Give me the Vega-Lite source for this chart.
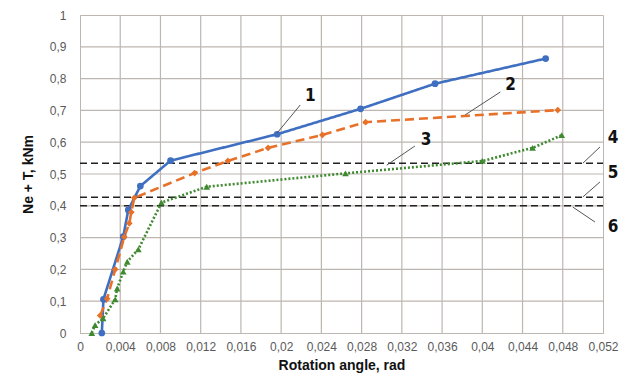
{
  "$schema": "https://vega.github.io/schema/vega-lite/v6.json",
  "autosize": {"type": "none"},
  "padding": {"left": 80, "top": 15, "right": 28, "bottom": 52},
  "width": 523,
  "height": 318,
  "background": "white",
  "config": {
    "view": {"stroke": "#bdb6b1", "strokeWidth": 1},
    "axis": {"grid": false, "labelOverlap": false, "labelFlush": false, "ticks": false, "domainColor": "#bdb6b1", "labelFont": "Liberation Sans", "labelFontSize": 12, "labelColor": "#5a5a5a", "titleFont": "Liberation Sans", "titleFontSize": 14, "titleFontWeight": "bold", "titleColor": "#111"}
  },
  "datasets": {
    "grid": [
      {"x": 0.004, "xe": 0.004, "y": 0, "ye": 1},
      {"x": 0.008, "xe": 0.008, "y": 0, "ye": 1},
      {"x": 0.012, "xe": 0.012, "y": 0, "ye": 1},
      {"x": 0.016, "xe": 0.016, "y": 0, "ye": 1},
      {"x": 0.02, "xe": 0.02, "y": 0, "ye": 1},
      {"x": 0.024, "xe": 0.024, "y": 0, "ye": 1},
      {"x": 0.028, "xe": 0.028, "y": 0, "ye": 1},
      {"x": 0.032, "xe": 0.032, "y": 0, "ye": 1},
      {"x": 0.036, "xe": 0.036, "y": 0, "ye": 1},
      {"x": 0.04, "xe": 0.04, "y": 0, "ye": 1},
      {"x": 0.044, "xe": 0.044, "y": 0, "ye": 1},
      {"x": 0.048, "xe": 0.048, "y": 0, "ye": 1},
      {"x": 0, "xe": 0.052, "y": 0.1, "ye": 0.1},
      {"x": 0, "xe": 0.052, "y": 0.2, "ye": 0.2},
      {"x": 0, "xe": 0.052, "y": 0.3, "ye": 0.3},
      {"x": 0, "xe": 0.052, "y": 0.4, "ye": 0.4},
      {"x": 0, "xe": 0.052, "y": 0.5, "ye": 0.5},
      {"x": 0, "xe": 0.052, "y": 0.6, "ye": 0.6},
      {"x": 0, "xe": 0.052, "y": 0.7, "ye": 0.7},
      {"x": 0, "xe": 0.052, "y": 0.8, "ye": 0.8},
      {"x": 0, "xe": 0.052, "y": 0.9, "ye": 0.9}
    ],
    "curves": [
      {"s": 1, "x": 0.00217, "y": 0},
      {"s": 1, "x": 0.00233, "y": 0.106},
      {"s": 1, "x": 0.0043, "y": 0.303},
      {"s": 1, "x": 0.0048, "y": 0.387},
      {"s": 1, "x": 0.006, "y": 0.462},
      {"s": 1, "x": 0.009, "y": 0.542},
      {"s": 1, "x": 0.0196, "y": 0.625},
      {"s": 1, "x": 0.0279, "y": 0.705},
      {"s": 1, "x": 0.0353, "y": 0.784},
      {"s": 1, "x": 0.0463, "y": 0.863},
      {"s": 2, "x": 0.002, "y": 0.055},
      {"s": 2, "x": 0.0027, "y": 0.108},
      {"s": 2, "x": 0.0035, "y": 0.2},
      {"s": 2, "x": 0.0044, "y": 0.302},
      {"s": 2, "x": 0.0049, "y": 0.345},
      {"s": 2, "x": 0.0051, "y": 0.38},
      {"s": 2, "x": 0.0054, "y": 0.425},
      {"s": 2, "x": 0.0114, "y": 0.503},
      {"s": 2, "x": 0.0147, "y": 0.541},
      {"s": 2, "x": 0.0187, "y": 0.582},
      {"s": 2, "x": 0.0241, "y": 0.623},
      {"s": 2, "x": 0.0284, "y": 0.663},
      {"s": 2, "x": 0.0475, "y": 0.701},
      {"s": 3, "x": 0.00117, "y": 0},
      {"s": 3, "x": 0.0015, "y": 0.025},
      {"s": 3, "x": 0.0023, "y": 0.046},
      {"s": 3, "x": 0.0035, "y": 0.106},
      {"s": 3, "x": 0.0037, "y": 0.14},
      {"s": 3, "x": 0.0043, "y": 0.193},
      {"s": 3, "x": 0.0047, "y": 0.224},
      {"s": 3, "x": 0.0058, "y": 0.263},
      {"s": 3, "x": 0.0081, "y": 0.41},
      {"s": 3, "x": 0.0126, "y": 0.46},
      {"s": 3, "x": 0.0264, "y": 0.502},
      {"s": 3, "x": 0.04, "y": 0.541},
      {"s": 3, "x": 0.045, "y": 0.582},
      {"s": 3, "x": 0.0479, "y": 0.622}
    ],
    "refs": [
      {"name": "4", "x": 0, "xe": 0.052, "y": 0.534},
      {"name": "5", "x": 0, "xe": 0.052, "y": 0.427},
      {"name": "6", "x": 0, "xe": 0.052, "y": 0.4}
    ],
    "leaders": [
      {"t": "1", "x": 0.0219, "y": 0.717, "xe": 0.0196, "ye": 0.629},
      {"t": "2", "x": 0.0418, "y": 0.758, "xe": 0.0383, "ye": 0.686},
      {"t": "3", "x": 0.0333, "y": 0.588, "xe": 0.0305, "ye": 0.528},
      {"t": "4", "x": 0.0517, "y": 0.585, "xe": 0.05, "ye": 0.534},
      {"t": "5", "x": 0.0517, "y": 0.475, "xe": 0.05, "ye": 0.428},
      {"t": "6", "x": 0.0512, "y": 0.349, "xe": 0.049, "ye": 0.396}
    ],
    "labels": [
      {"t": "1", "x": 0.0229, "y": 0.745},
      {"t": "2", "x": 0.0428, "y": 0.78},
      {"t": "3", "x": 0.0344, "y": 0.607},
      {"t": "4", "x": 0.053, "y": 0.613},
      {"t": "5", "x": 0.053, "y": 0.503},
      {"t": "6", "x": 0.053, "y": 0.333}
    ]
  },
  "encoding": {
    "x": {"field": "x", "type": "quantitative", "scale": {"domain": [0, 0.052], "nice": false},
      "axis": {"title": "Rotation angle, rad", "values": [0,0.004,0.008,0.012,0.016,0.02,0.024,0.028,0.032,0.036,0.04,0.044,0.048,0.052], "labelExpr": "replace(format(datum.value, '.3~f'), '.', ',')", "labelPadding": 8, "titlePadding": 6}},
    "y": {"field": "y", "type": "quantitative", "scale": {"domain": [0, 1], "nice": false},
      "axis": {"title": "Ne + T, kNm", "values": [0,0.1,0.2,0.3,0.4,0.5,0.6,0.7,0.8,0.9,1], "labelExpr": "replace(format(datum.value, '.1~f'), '.', ',')", "labelPadding": 14, "titlePadding": 14}}
  },
  "layer": [
    {
      "data": {"name": "grid"},
      "mark": {"type": "rule", "color": "#bdb6b1", "strokeWidth": 1.2},
      "encoding": {"x2": {"field": "xe"}, "y2": {"field": "ye"}}
    },
    {
      "data": {"name": "refs"},
      "mark": {"type": "rule", "color": "#222", "strokeWidth": 1.6, "strokeDash": [7, 4]},
      "encoding": {"x2": {"field": "xe"}}
    },
    {
      "data": {"name": "curves"},
      "mark": {"type": "line", "strokeWidth": 2.6},
      "encoding": {
        "color": {"field": "s", "type": "nominal", "scale": {"domain": [1, 2, 3], "range": ["#3f6fc0", "#e8712a", "#3f8a30"]}, "legend": null},
        "strokeDash": {"field": "s", "type": "nominal", "scale": {"domain": [1, 2, 3], "range": [[1, 0], [9, 5], [2, 2]]}, "legend": null}
      }
    },
    {
      "data": {"name": "curves"},
      "mark": {"type": "point", "filled": true, "opacity": 1, "size": 45},
      "encoding": {
        "color": {"field": "s", "type": "nominal", "scale": {"domain": [1, 2, 3], "range": ["#3f6fc0", "#e8712a", "#3f8a30"]}, "legend": null},
        "shape": {"field": "s", "type": "nominal", "scale": {"domain": [1, 2, 3], "range": ["circle", "diamond", "triangle-up"]}, "legend": null}
      }
    },
    {
      "data": {"name": "leaders"},
      "mark": {"type": "rule", "color": "#555", "strokeWidth": 1},
      "encoding": {"x2": {"field": "xe"}, "y2": {"field": "ye"}}
    },
    {
      "data": {"name": "labels"},
      "mark": {"type": "text", "font": "DejaVu Sans Condensed", "fontWeight": "bold", "fontSize": 17, "color": "#111", "align": "center", "baseline": "middle"},
      "encoding": {"text": {"field": "t"}}
    }
  ]
}
